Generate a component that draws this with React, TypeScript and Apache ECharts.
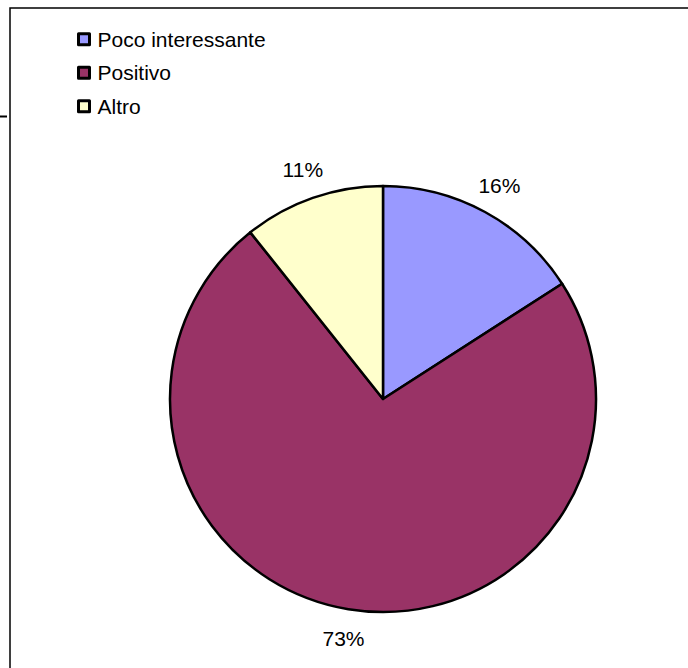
import React, { useEffect, useRef } from "react";
import * as echarts from "echarts";

const categories = ["Poco interessante", "Positivo", "Altro"];
const values = [15.9, 73.4, 10.7];
const colors = ["#9999FF", "#993366", "#FFFFCC"];

const FONT = "'Liberation Sans', Arial, Helvetica, sans-serif";

export default function App() {
  const ref = useRef<HTMLDivElement>(null);
  useEffect(() => {
    if (!ref.current) return;
    const chart = echarts.init(ref.current, undefined, { renderer: "svg" });
    const total = values.reduce((a, b) => a + b, 0);
    const data = categories.map((name, i) => ({
      name,
      value: values[i],
      itemStyle: { color: colors[i] },
    }));
    chart.setOption({
      animation: false,
      backgroundColor: "#ffffff",
      legend: {
        orient: "vertical",
        left: 77,
        top: 28,
        padding: 0,
        itemWidth: 11,
        itemHeight: 11,
        itemGap: 11,
        icon: "rect",
        data: categories,
        itemStyle: { borderColor: "#000", borderWidth: 3 },
        textStyle: {
          fontFamily: FONT,
          fontSize: 21,
          color: "#000",
          lineHeight: 22.5,
          padding: [0, 0, 0, 3],
        },
        selectedMode: false,
      },
      graphic: [
        {
          type: "rect",
          shape: { x: 10, y: 8, width: 800, height: 800 },
          style: { fill: "none", stroke: "#000", lineWidth: 1.5 },
          silent: true,
        },
        {
          type: "line",
          shape: { x1: 0, y1: 116.5, x2: 7, y2: 116.5 },
          style: { stroke: "#000", lineWidth: 2 },
          silent: true,
        },
      ],
      series: [
        {
          type: "pie",
          center: [383, 399],
          radius: 213,
          startAngle: 90,
          clockwise: true,
          silent: true,
          label: { show: false },
          labelLine: { show: false },
          itemStyle: { borderColor: "#000", borderWidth: 2.5 },
          emphasis: { disabled: true },
          data,
        },
        {
          type: "pie",
          center: [383, 399],
          radius: [223, 257],
          startAngle: 90,
          clockwise: true,
          silent: true,
          itemStyle: { color: "transparent", borderWidth: 0 },
          labelLine: { show: false },
          label: {
            show: true,
            position: "inside",
            rotate: 0,
            fontFamily: FONT,
            fontSize: 21,
            color: "#000",
            formatter: (p: any) => Math.round((p.value / total) * 100) + "%",
          },
          emphasis: { disabled: true },
          data: categories.map((name, i) => ({ name, value: values[i] })),
        },
      ],
    });
    return () => chart.dispose();
  }, []);
  return (
    <div
      ref={ref}
      style={{ position: "fixed", left: 0, top: 0, width: 688, height: 668 }}
    />
  );
}
